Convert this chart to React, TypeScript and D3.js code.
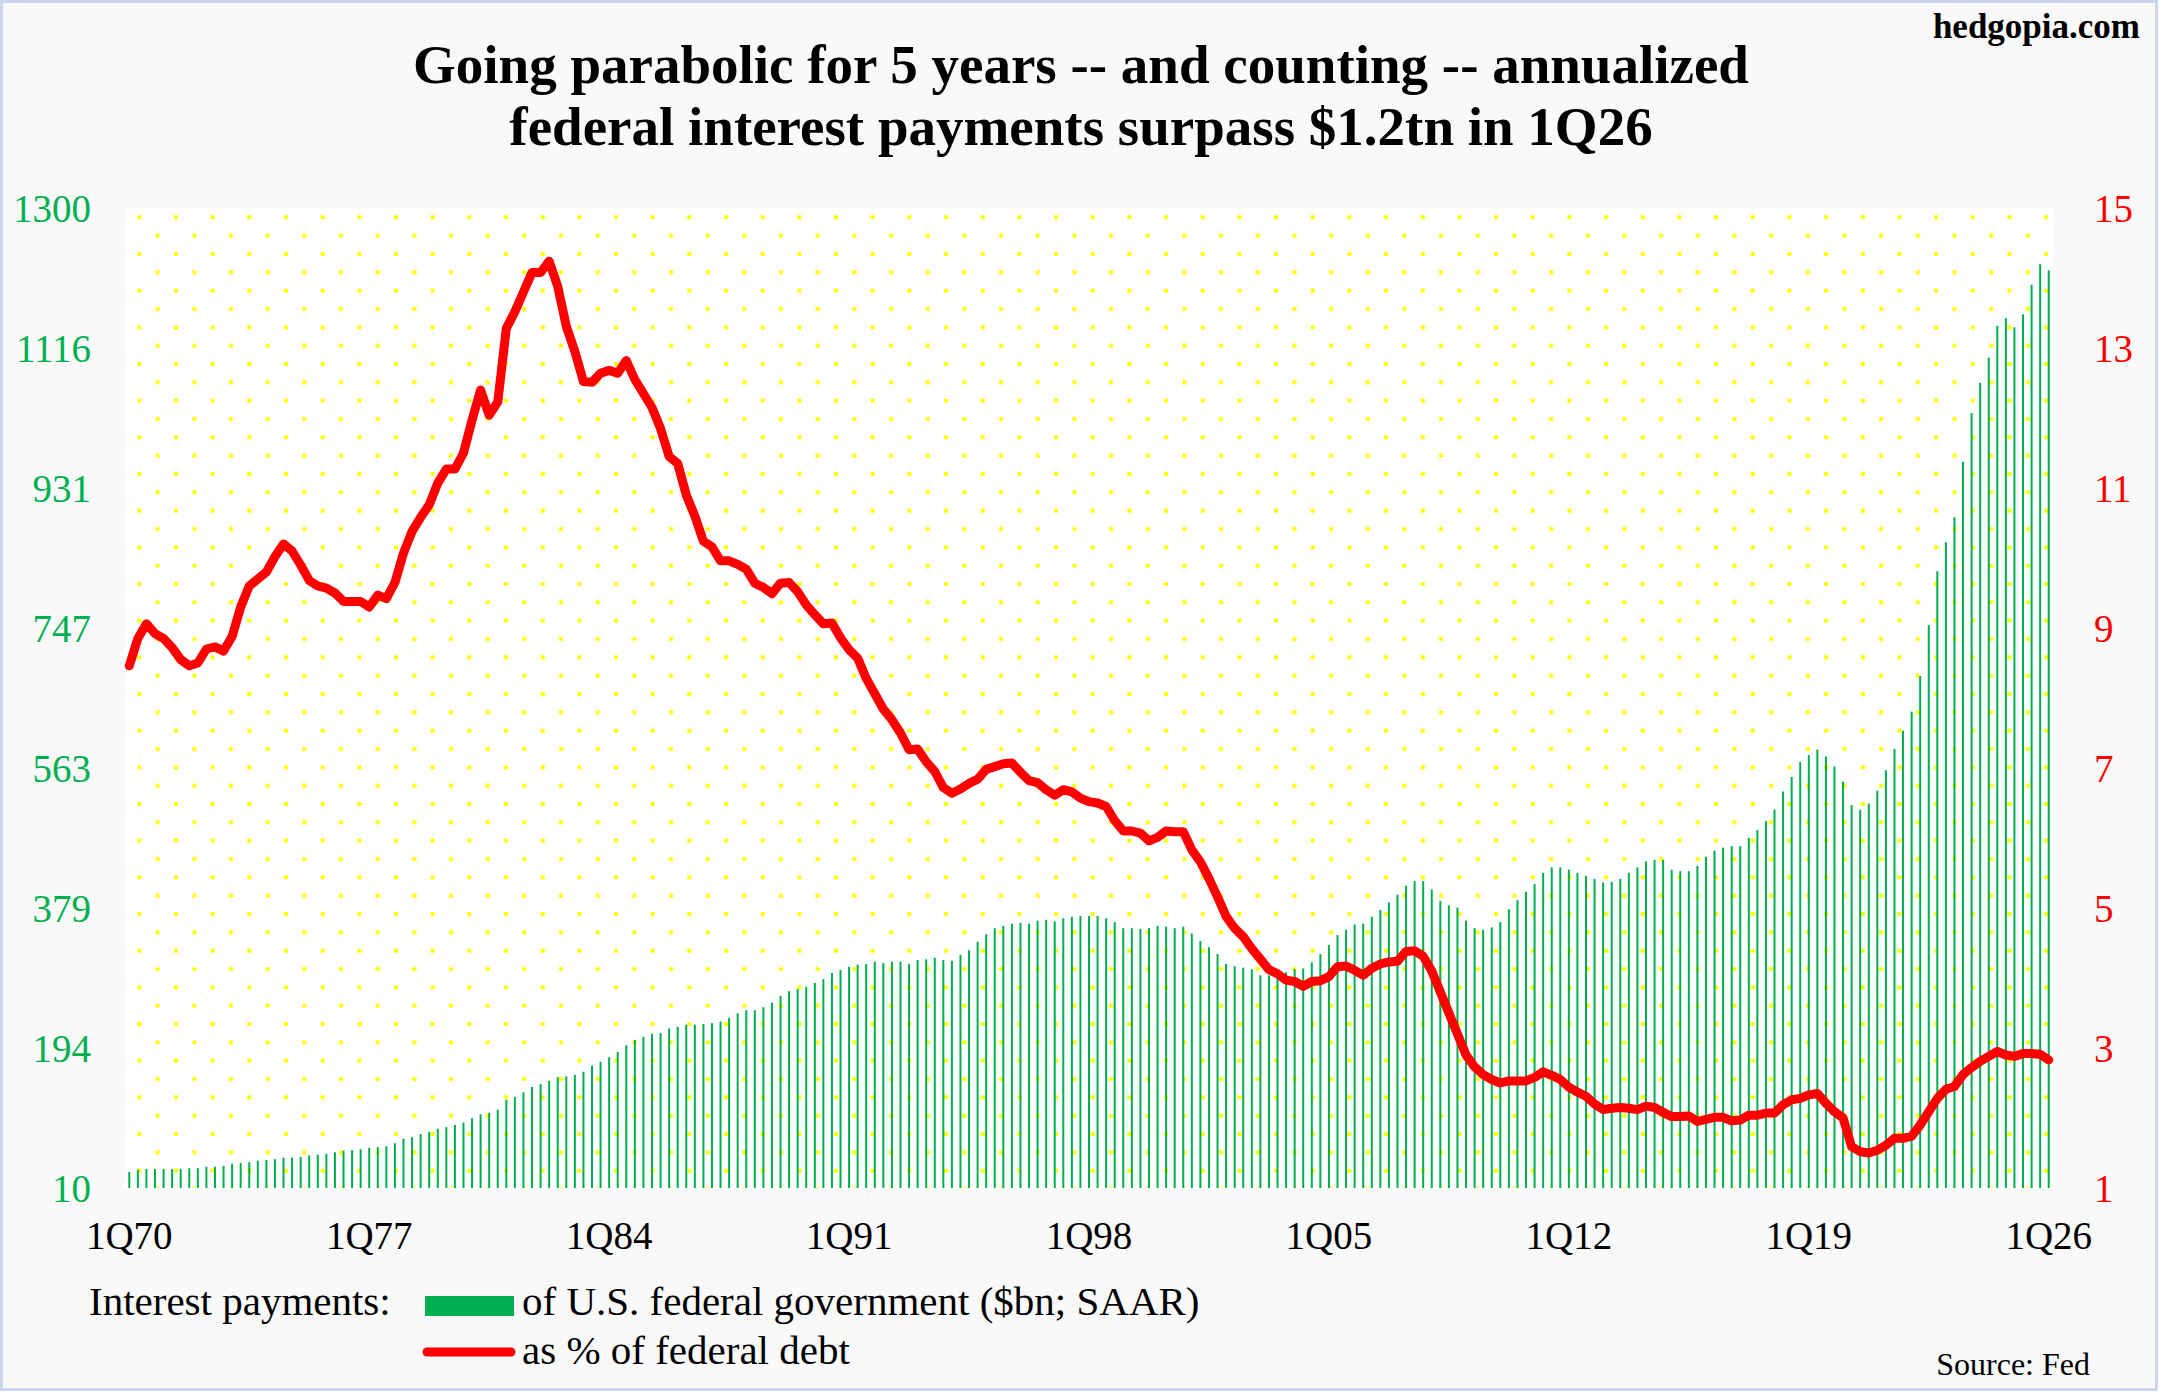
import React from "react";
import * as d3 from "d3";

// ---------- DATA ----------
const startYear = 1970;
const nQuarters = 225; // 1Q70 .. 1Q26
const quarters: string[] = d3.range(nQuarters).map((i) => {
  const y = startYear + Math.floor(i / 4);
  return `${(i % 4) + 1}Q${String(y % 100).padStart(2, "0")}`;
});

// Interest payments of U.S. federal government ($bn; SAAR)
const interestBn: number[] = [
  31, 34, 35, 35, 35, 35, 35, 36,
  36, 38, 38, 39, 42, 43, 44, 46,
  47, 48, 50, 50, 51, 53, 54, 55,
  57, 59, 60, 61, 63, 64, 65, 69,
  75, 77, 81, 84, 88, 90, 93, 96,
  102, 107, 109, 113, 126, 130, 136, 143,
  147, 151, 156, 157, 159, 163, 171, 176,
  182, 189, 198, 205, 209, 213, 214, 220,
  222, 225, 225, 226, 227, 229, 234, 240,
  244, 244, 248, 254, 263, 269, 272, 275,
  280, 285, 293, 297, 301, 304, 305, 308,
  306, 308, 308, 305, 310, 311, 313, 310,
  309, 317, 323, 334, 344, 352, 355, 358,
  359, 358, 362, 363, 361, 365, 367, 368,
  368, 368, 365, 360, 352, 352, 351, 352,
  355, 354, 352, 354, 345, 335, 327, 318,
  305, 302, 300, 298, 290, 290, 294, 294,
  298, 299, 307, 318, 330, 343, 350, 357,
  358, 367, 376, 386, 396, 408, 414, 414,
  403, 388, 382, 379, 362, 352, 350, 353,
  360, 377, 389, 400, 410, 425, 432, 432,
  429, 425, 421, 417, 412, 413, 417, 425,
  432, 440, 442, 442, 429, 427, 427, 434,
  446, 454, 458, 460, 460, 471, 481, 493,
  508, 532, 551, 571, 580, 587, 578, 565,
  545, 514, 508, 516, 533, 560, 588, 612,
  637, 684, 751, 822, 860, 893, 966, 1030,
  1070, 1103, 1145, 1155, 1143, 1160, 1199, 1226,
  1218,
];

// Interest payments as % of federal debt
const interestPctDebt: number[] = [
  8.46, 8.85, 9.06, 8.92, 8.85, 8.72, 8.55, 8.46,
  8.5, 8.7, 8.73, 8.67, 8.88, 9.3, 9.6, 9.7,
  9.8, 10.02, 10.2, 10.1, 9.9, 9.68, 9.6, 9.57,
  9.5, 9.38, 9.38, 9.38, 9.3, 9.47, 9.42, 9.65,
  10.07, 10.38, 10.58, 10.76, 11.07, 11.27, 11.27, 11.5,
  11.97, 12.4, 12.04, 12.23, 13.28, 13.52, 13.8, 14.08,
  14.08, 14.24, 13.88, 13.31, 12.95, 12.52, 12.51, 12.64,
  12.68, 12.64, 12.82, 12.55, 12.35, 12.15, 11.85, 11.45,
  11.35, 10.9, 10.6, 10.24, 10.16, 9.96, 9.96, 9.91,
  9.84, 9.64, 9.58, 9.49, 9.64, 9.65, 9.52, 9.33,
  9.19, 9.06, 9.07, 8.86, 8.69, 8.57, 8.28, 8.06,
  7.84, 7.69, 7.5, 7.26, 7.27, 7.09, 6.95, 6.72,
  6.64, 6.7, 6.78, 6.84, 6.98, 7.02, 7.06, 7.07,
  6.94, 6.82, 6.79, 6.69, 6.61, 6.69, 6.66, 6.57,
  6.52, 6.5, 6.45, 6.25, 6.1, 6.1, 6.07, 5.96,
  6.01, 6.1, 6.09, 6.09, 5.83, 5.66, 5.42, 5.16,
  4.88, 4.71, 4.59, 4.42, 4.27, 4.12, 4.06, 3.97,
  3.95, 3.88, 3.95, 3.96, 4.02, 4.16, 4.17, 4.11,
  4.04, 4.14, 4.2, 4.23, 4.24, 4.38, 4.39, 4.31,
  4.1, 3.8, 3.5, 3.2, 2.9, 2.73, 2.62, 2.55,
  2.5, 2.53, 2.53, 2.53, 2.58, 2.66, 2.61, 2.55,
  2.44, 2.37, 2.31, 2.2, 2.12, 2.14, 2.15, 2.14,
  2.12, 2.17, 2.15, 2.08, 2.02, 2.02, 2.03, 1.95,
  1.98, 2.01, 2.01, 1.96, 1.97, 2.04, 2.04, 2.07,
  2.07, 2.19, 2.26, 2.28, 2.33, 2.35, 2.21, 2.09,
  2.0, 1.59, 1.52, 1.5, 1.54, 1.61, 1.71, 1.71,
  1.74, 1.9, 2.09, 2.28, 2.41, 2.45, 2.62, 2.72,
  2.81, 2.88, 2.95, 2.9, 2.88, 2.92, 2.92, 2.91,
  2.83,
];

const leftTickLabels = ["10", "194", "379", "563", "747", "931", "1116", "1300"];
const rightTickLabels = ["1", "3", "5", "7", "9", "11", "13", "15"];
const xTickLabels = ["1Q70", "1Q77", "1Q84", "1Q91", "1Q98", "1Q05", "1Q12", "1Q19", "1Q26"];

const titleLines = [
  "Going parabolic for 5 years -- and counting -- annualized",
  "federal interest payments surpass $1.2tn in 1Q26",
];

// ---------- LAYOUT ----------
const W = 2167;
const H = 1397;
const plot = { left: 125, right: 2053, top: 208, bottom: 1188 };
const FONT = "'Liberation Serif', 'Times New Roman', Times, serif";
const GREEN = "#00b050";
const RED = "#ff0000";

export default function App() {
  const x = d3
    .scaleBand<string>()
    .domain(quarters)
    .range([plot.left, plot.right])
    .paddingInner(0)
    .paddingOuter(0);
  const cx = (q: string) => (x(q) as number) + x.bandwidth() / 2;

  const yL = d3.scaleLinear().domain([10, 1300]).range([plot.bottom, plot.top]);
  const yR = d3.scaleLinear().domain([1, 15]).range([plot.bottom, plot.top]);

  const leftTickVals = d3.range(8).map((k) => 10 + (k * 1290) / 7);
  const rightTickVals = d3.range(8).map((k) => 1 + k * 2);

  const line = d3
    .line<number>()
    .x((_, i) => cx(quarters[i]))
    .y((d) => yR(d))
    .curve(d3.curveLinear);

  const barW = 2;

  return (
    <svg
      width={W}
      height={H}
      viewBox={`0 0 ${W} ${H}`}
      style={{ position: "absolute", left: 0, top: 0, background: "#ffffff" }}
      fontFamily={FONT}
    >
      <defs>
        <pattern
          id="dots"
          patternUnits="userSpaceOnUse"
          x={137.3}
          y={215.3}
          width={36.67}
          height={36.67}
        >
          <rect x={0} y={0} width={4} height={4} fill="#ffff00" />
          <rect x={18.33} y={18.33} width={4} height={4} fill="#ffff00" />
        </pattern>
      </defs>

      {/* frame */}
      <rect x={1.5} y={1.5} width={2155} height={1388} fill="#f9f9f9" stroke="#c8d7ef" strokeWidth={3} />

      {/* plot area */}
      <rect
        x={plot.left}
        y={plot.top}
        width={plot.right - plot.left}
        height={plot.bottom - plot.top}
        fill="#ffffff"
      />
      <rect
        x={plot.left}
        y={plot.top}
        width={plot.right - plot.left}
        height={plot.bottom - plot.top}
        fill="url(#dots)"
      />

      {/* bars */}
      <g>
        {interestBn.map((v, i) => (
          <rect
            key={i}
            x={cx(quarters[i]) - barW / 2}
            y={yL(v)}
            width={barW}
            height={yL(10) - yL(v)}
            fill={GREEN}
          />
        ))}
      </g>

      {/* line */}
      <path
        d={line(interestPctDebt) || ""}
        fill="none"
        stroke={RED}
        strokeWidth={9}
        strokeLinejoin="round"
        strokeLinecap="round"
      />

      {/* left axis labels */}
      {leftTickVals.map((v, k) => (
        <text
          key={k}
          x={91}
          y={yL(v)}
          textAnchor="end"
          dominantBaseline="central"
          fontSize={39}
          fill={GREEN}
        >
          {leftTickLabels[k]}
        </text>
      ))}

      {/* right axis labels */}
      {rightTickVals.map((v, k) => (
        <text
          key={k}
          x={2094}
          y={yR(v)}
          textAnchor="start"
          dominantBaseline="central"
          fontSize={39}
          fill={RED}
        >
          {rightTickLabels[k]}
        </text>
      ))}

      {/* x axis labels */}
      {xTickLabels.map((lab) => (
        <text key={lab} x={cx(lab)} y={1249} textAnchor="middle" fontSize={39} fill="#000">
          {lab}
        </text>
      ))}

      {/* title */}
      {titleLines.map((t, k) => (
        <text
          key={k}
          x={1081}
          y={83 + k * 62}
          textAnchor="middle"
          fontSize={55}
          fontWeight="bold"
          fill="#000"
        >
          {t}
        </text>
      ))}

      <text x={2140} y={38} textAnchor="end" fontSize={35} fontWeight="bold" fill="#000">
        hedgopia.com
      </text>

      {/* legend */}
      <text x={89} y={1315} fontSize={41} fill="#000">
        Interest payments:
      </text>
      <rect x={425} y={1296} width={89} height={20} fill={GREEN} />
      <text x={522} y={1315} fontSize={41} fill="#000">
        of U.S. federal government ($bn; SAAR)
      </text>
      <line x1={427} x2={511} y1={1352} y2={1352} stroke={RED} strokeWidth={9} strokeLinecap="round" />
      <text x={522} y={1364} fontSize={41} fill="#000">
        as % of federal debt
      </text>

      <text x={2090} y={1375} textAnchor="end" fontSize={32} fill="#000">
        Source: Fed
      </text>
    </svg>
  );
}
